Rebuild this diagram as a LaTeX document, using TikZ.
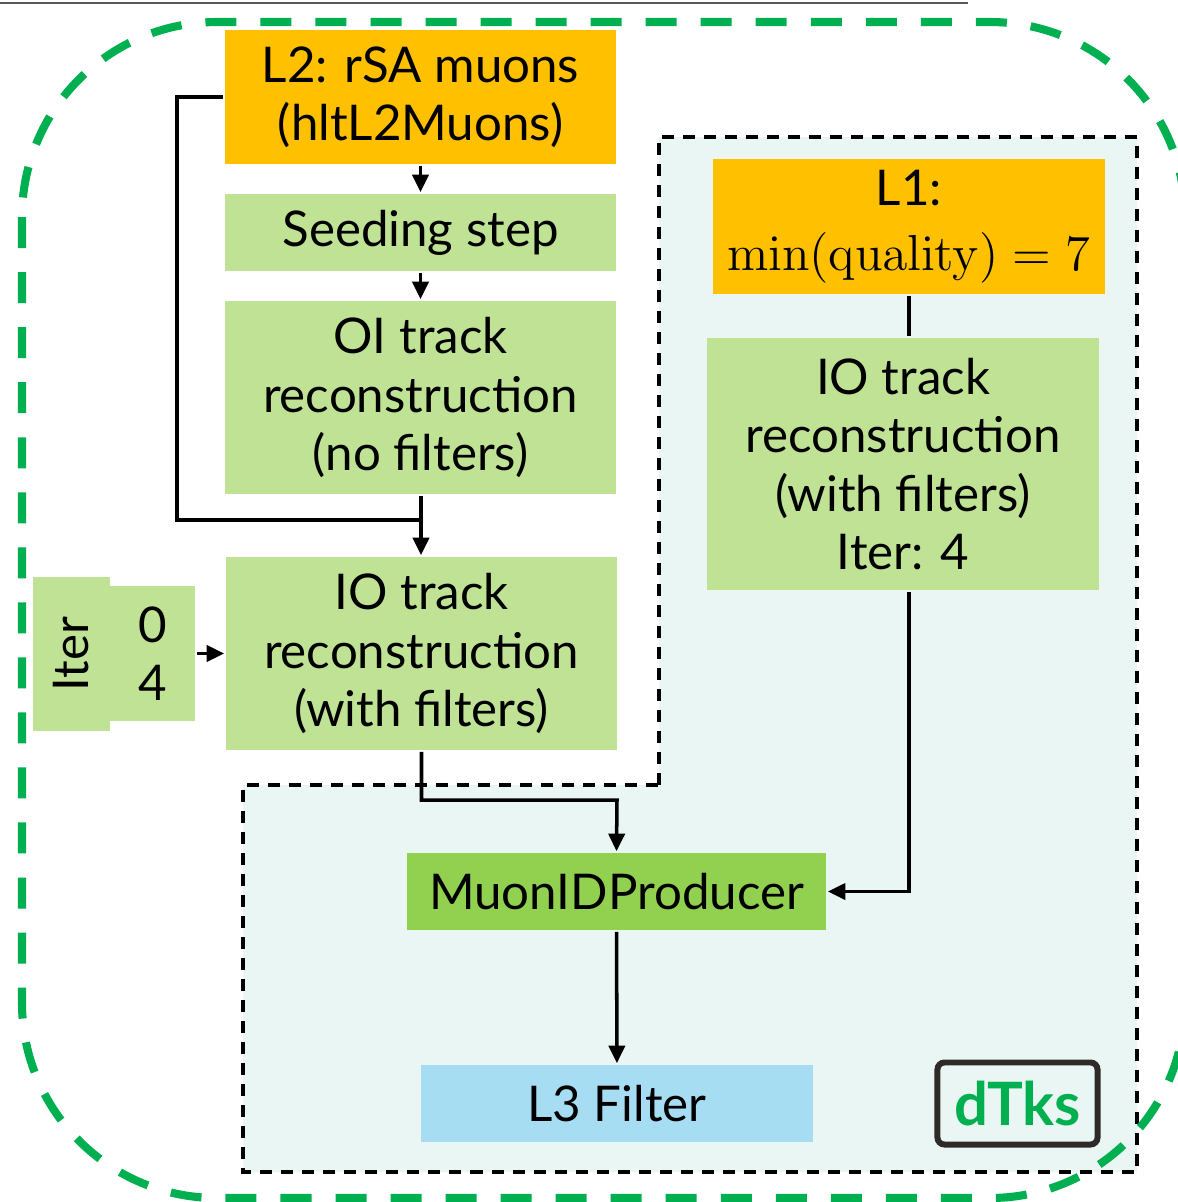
\documentclass[tikz,border=0pt]{standalone}
\usepackage[no-math]{fontspec}
\setmainfont{Lato}
\usetikzlibrary{arrows.meta,positioning}
\definecolor{orng}{HTML}{FFC000}
\definecolor{lgrn}{HTML}{BFE294}
\definecolor{mgrn}{HTML}{92D050}
\definecolor{lblu}{HTML}{A6DDF3}
\definecolor{mint}{HTML}{EAF6F3}
\definecolor{dgrn}{HTML}{00B050}

\begin{document}
\begin{tikzpicture}[x=0.01cm,y=-0.01cm,line width=1pt,>={Triangle[length=5pt,width=4.6pt]},
  font=\fontsize{14}{16.6}\selectfont]
\tikzstyle{blk}=[inner sep=0pt,align=center,text=black]
\tikzstyle{lvl}=[blk,fill=orng,minimum width=3.91cm]
\tikzstyle{stp}=[blk,fill=lgrn,minimum width=3.91cm]
\useasboundingbox (0,0) rectangle (1178,1202);
% slide rule and displaced-tracks region
\draw[gray!70!black,line width=0.6pt] (0,3) -- (968,3);
\fill[mint] (659,137) -- (1137,137) -- (1137,1172) -- (243,1172) -- (243,785) -- (659,785) -- cycle;
\draw[line width=1.2pt,dash pattern=on 0.12cm off 0.09cm] (659,785) -- (659,137) -- (1137,137) -- (1137,1172) -- (243,1172) -- (243,785) -- cycle;
\draw[dgrn,line width=2.3pt,dash pattern=on 0.31cm off 0.24cm,rounded corners=1.95cm] (22,22) rectangle (1185,1198);
% boxes
\node[lvl,minimum height=1.34cm] (l2)    at (420.5,97)    {L2: rSA muons\\(hltL2Muons)};
\node[stp,minimum height=0.77cm] (seed)  at (420.5,232.5) {Seeding step};
\node[stp,minimum height=1.93cm] (oi)    at (420.5,397.5) {OI track\\reconstruction\\(no filters)};
\node[stp,minimum height=1.93cm] (iol)   at (421.5,653.5) {IO track\\reconstruction\\(with filters)};
\node[stp,minimum width=1.54cm,minimum height=0.77cm,rotate=90] (iterA) at (71.5,654) {Iter};
\node[stp,minimum width=0.85cm,minimum height=1.35cm] (iterB) at (152.5,653.5) {0\\4};
\node[lvl,minimum width=3.92cm,minimum height=1.35cm] (l1) at (909,226.5) {L1:\\[2pt]$\min(\mathrm{quality}) = 7$};
\node[stp,minimum width=3.92cm,minimum height=2.52cm] (ior) at (903,464) {IO track\\reconstruction\\(with filters)\\Iter: 4};
\node[blk,fill=mgrn,minimum width=4.19cm,minimum height=0.77cm] (muid) at (616.5,891.5) {MuonIDProducer};
\node[blk,fill=lblu,minimum width=3.92cm,minimum height=0.77cm] (l3) at (617,1103.5) {L3 Filter};
\node[blk,draw=black!90!olive,line width=1.7pt,rounded corners=2pt,minimum width=1.6cm,minimum height=0.82cm,
  text=dgrn,font=\fontsize{17}{20}\bfseries] (dtks) at (1017.5,1103.5) {dTks};
% connectors
\coordinate (loop) at (177,520);
\coordinate (join) at (421,520);
\coordinate (split) at (617,800);
\draw[->] (l2) -- (seed);
\draw[->] (seed) -- (oi);
\draw (l2.west) -| (loop) -- (join);
\draw[->] (oi.south -| join) -- (iol.north -| join);
\draw[->] (iterB) -- (iol);
\draw[->] (iol.south) |- (split) -- (muid.north);
\draw (l1) -- (ior.north -| l1);
\draw[->] (ior.south -| l1) |- (muid.east);
\draw[->] (muid) -- (l3);
\end{tikzpicture}
\end{document}
